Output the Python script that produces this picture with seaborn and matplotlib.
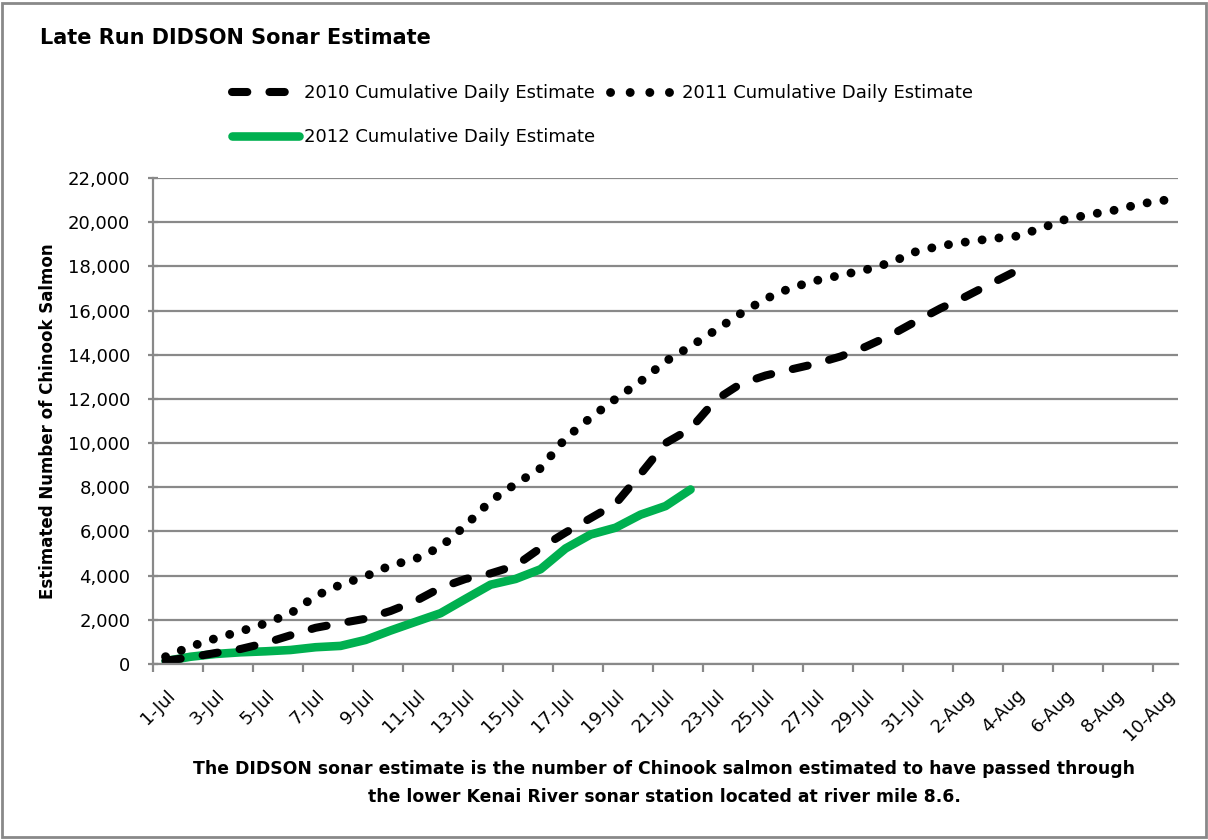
import numpy as np
import pandas as pd
import matplotlib
matplotlib.use('Agg')
import matplotlib.pyplot as plt
import matplotlib.transforms as mtransforms
from matplotlib.patches import Rectangle
from matplotlib.lines import Line2D
import seaborn as sns

# values, one per day starting 1-Jul
est_2010 = [150, 300, 500, 680, 950, 1300, 1640, 1850, 2050, 2400, 2850, 3450,
            3850, 4100, 4450, 5250, 5950, 6600, 7250, 8600, 10000, 10650, 11950,
            12680, 13060, 13330, 13590, 13920, 14360, 14880, 15500, 16100, 16630,
            17210, 17780]
est_2011 = [330, 790, 1160, 1480, 1840, 2290, 3080, 3590, 3970, 4460, 4760, 5300,
            6270, 7380, 8150, 8860, 10220, 11150, 12000, 12790, 13700, 14380, 15110,
            15860, 16530, 17020, 17350, 17600, 17840, 18170, 18660, 18930, 19100,
            19250, 19360, 19710, 20130, 20350, 20550, 20830, 21000]
est_2012 = [135, 330, 455, 530, 575, 635, 760, 820, 1090, 1515, 1910, 2300, 2950,
            3590, 3850, 4290, 5230, 5860, 6170, 6760, 7150, 7900]

date_labels = ['1-Jul', '3-Jul', '5-Jul', '7-Jul', '9-Jul', '11-Jul', '13-Jul',
               '15-Jul', '17-Jul', '19-Jul', '21-Jul', '23-Jul', '25-Jul', '27-Jul',
               '29-Jul', '31-Jul', '2-Aug', '4-Aug', '6-Aug', '8-Aug', '10-Aug']
y_ticks = [0, 2000, 4000, 6000, 8000, 10000, 12000, 14000, 16000, 18000, 20000, 22000]

names = ['2010 Cumulative Daily Estimate', '2011 Cumulative Daily Estimate',
         '2012 Cumulative Daily Estimate']

sns.set_style('white')
plt.rcParams['font.family'] = ['DejaVu Sans']
plt.rcParams['text.color'] = 'black'
plt.rcParams['xtick.color'] = 'black'
plt.rcParams['ytick.color'] = 'black'
plt.rcParams['axes.labelcolor'] = 'black'

grey = '#898989'
green = '#00B050'

fig = plt.figure(figsize=(12.08, 8.4), dpi=100)
ax = fig.add_axes([0.1267, 0.2095, 0.8485, 0.5786])

d10 = pd.DataFrame({'day': np.arange(len(est_2010)), 'n': est_2010})
d11 = pd.DataFrame({'day': np.arange(len(est_2011)), 'n': est_2011})
d12 = pd.DataFrame({'day': np.arange(len(est_2012)), 'n': est_2012})

lw = 5.8
lw_dot = 6.4
sns.lineplot(data=d12, x='day', y='n', ax=ax, color=green, lw=6.2)
ax.lines[-1].set_solid_capstyle('round')
sns.lineplot(data=d10, x='day', y='n', ax=ax, color='black', lw=lw)
l10 = ax.lines[-1]
l10.set_dashes((1.9, 2.75))
l10.set_dash_capstyle('round')
sns.lineplot(data=d11, x='day', y='n', ax=ax, color='black', lw=lw_dot)
l11 = ax.lines[-1]
l11.set_dashes((0.01, 1.9))
l11.set_dash_capstyle('round')

ax.set_xlim(-0.5, 40.5)
ax.set_ylim(0, 22000)
ax.set_yticks(y_ticks)
ax.set_yticklabels([f'{v:,}' for v in y_ticks], fontsize=13)
ax.yaxis.grid(True, color=grey, lw=1.6)
ax.set_axisbelow(True)

ax.set_xticks(np.arange(-0.5, 40, 2))
ax.set_xticklabels([])
ax.set_xticks(np.arange(0, 41, 2), minor=True)
ax.set_xticklabels(date_labels, minor=True, fontsize=13, rotation=45,
                   ha='right', va='top', rotation_mode='anchor')
shift = mtransforms.ScaledTranslation(-5 / 100, 0, fig.dpi_scale_trans)
for lab in ax.get_xticklabels(minor=True):
    lab.set_transform(lab.get_transform() + shift)
ax.tick_params(axis='x', which='major', direction='out', length=6, width=1.6,
               color=grey, bottom=True)
ax.tick_params(axis='x', which='minor', length=0, pad=16)
ax.tick_params(axis='y', direction='inout', length=7, width=1.6, color=grey,
               pad=13, left=True)

for s in ['top', 'right']:
    ax.spines[s].set_visible(False)
for s in ['left', 'bottom']:
    ax.spines[s].set_color(grey)
    ax.spines[s].set_linewidth(1.6)

ax.set_xlabel('')
ax.set_ylabel('Estimated Number of Chinook Salmon', fontsize=12,
              fontweight='bold')
ax.yaxis.set_label_coords(-0.094, 0.5)

fig.text(0.033, 1 - 44 / 840, 'Late Run DIDSON Sonar Estimate', fontsize=15,
         fontweight='bold', va='baseline', ha='left')

h10 = Line2D([], [], color='black', lw=lw, dashes=(1.9, 2.75), dash_capstyle='round')
h11 = Line2D([], [], color='black', lw=lw_dot, dashes=(0.01, 2.2), dash_capstyle='round')
h12 = Line2D([], [], color=green, lw=6.2, solid_capstyle='round')
fig.legend([h10, h12, h11], [names[0], names[2], names[1]], ncol=2,
           loc='upper left', bbox_to_anchor=(232 / 1208, 1 - 84 / 840),
           frameon=False, fontsize=13, handlelength=3.7, handletextpad=0.3,
           columnspacing=0.8, labelspacing=1.45, borderpad=0, borderaxespad=0)

fig.text(664 / 1208, 1 - 769 / 840,
         'The DIDSON sonar estimate is the number of Chinook salmon estimated to have passed through',
         fontsize=12.4, fontweight='bold', ha='center', va='center')
fig.text(664 / 1208, 1 - 797 / 840,
         'the lower Kenai River sonar station located at river mile 8.6.',
         fontsize=12.4, fontweight='bold', ha='center', va='center')

fig.patches.append(Rectangle((0.002, 0.003), 0.996, 0.994, transform=fig.transFigure,
                             fill=False, edgecolor=grey, lw=2))

fig.savefig('out.png', dpi=100)
